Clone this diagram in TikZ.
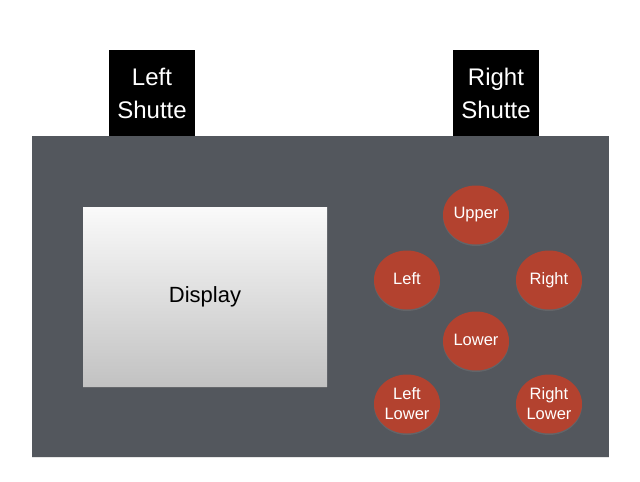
\documentclass[tikz,border=0pt]{standalone}
\usepackage{fontspec}
\setmainfont{Liberation Sans}
\usetikzlibrary{shapes.geometric,shadows}
\definecolor{bodygray}{HTML}{53575D}
\definecolor{buttonred}{HTML}{B3422F}
\definecolor{screenlow}{HTML}{C2C2C2}
\begin{document}
\begin{tikzpicture}[x=1pt,y=-1pt]
  \tikzset{every node/.style={inner sep=0pt, align=center}}
  \tikzset{shutter/.style={fill=black, minimum width=86pt, minimum height=86pt,
      text=white, font=\fontsize{24}{33}\selectfont}}
  \tikzset{button/.style={ellipse, fill=buttonred, minimum width=66pt, minimum height=59pt,
      text=white, font=\fontsize{16.5}{20}\selectfont,
      drop shadow={opacity=0.35, shadow xshift=0pt, shadow yshift=-1.5pt}}}
  \path[use as bounding box] (0,0) rectangle (640,482);

  % camera body
  \node[fill=bodygray, minimum width=577pt, minimum height=321pt,
    drop shadow={opacity=0.2, shadow xshift=0pt, shadow yshift=-1pt}] (body) at (320.5,296.5) {};
  \node[shutter] (lshutter) at (152,93) {Left\\Shutte};
  \node[shutter] (rshutter) at (496,93) {Right\\Shutte};

  % screen
  \node[top color=white!98!black, bottom color=screenlow, minimum width=244pt, minimum height=179pt,
    font=\fontsize{22}{24}\selectfont,
    drop shadow={opacity=0.4, shadow xshift=0pt, shadow yshift=-1.5pt}] (display) at (205,296.5) {Display};

  % cross keys
  \node[button] (upper) at (476,215) {\raisebox{2pt}{Upper}};
  \node[button] (left) at (407,280) {\raisebox{2pt}{Left}};
  \node[button] (right) at (549,280) {\raisebox{2pt}{Right}};
  \node[button] (lower) at (476,341) {\raisebox{2pt}{Lower}};
  \node[button] (llower) at (407,404) {Left\\Lower};
  \node[button] (rlower) at (549,404) {Right\\Lower};
\end{tikzpicture}
\end{document}
